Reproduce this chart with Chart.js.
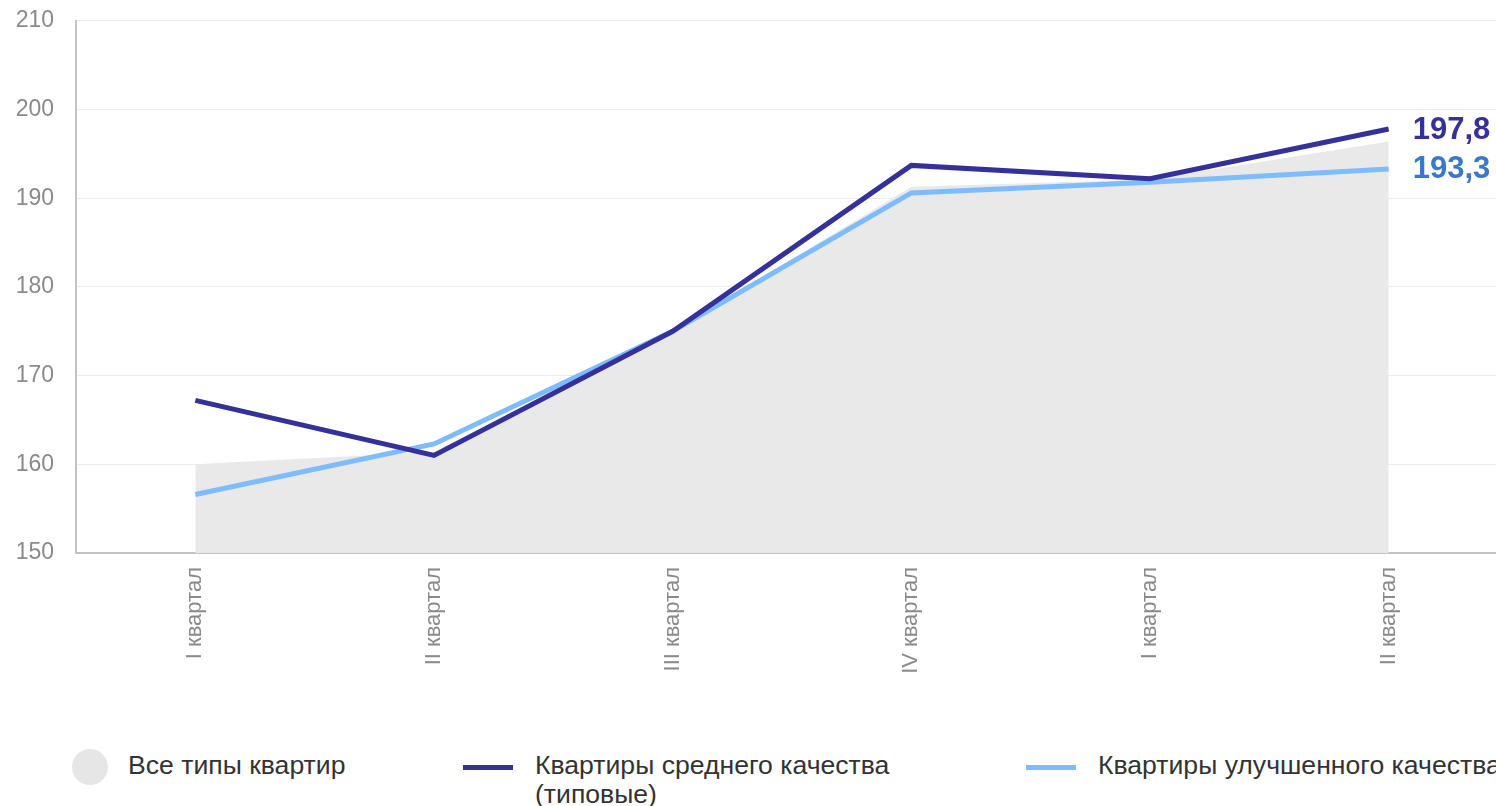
<!DOCTYPE html>
<html lang="ru">
<head>
<meta charset="utf-8">
<script src="https://cdn.jsdelivr.net/npm/chart.js@4/dist/chart.umd.min.js"></script>
<style>
    html, body { margin: 0; padding: 0; background: #fff; overflow: hidden; }
    body { width: 1496px; height: 806px; position: relative; font-family: "Liberation Sans", Arial, sans-serif; }
    #chart-box { position: absolute; left: 0; top: -15px; width: 1508px; height: 695px; }
    .legend { position: absolute; left: 0; top: 746px; width: 1700px; font-size: 26.6px; color: #333; }
    .legend-item { position: absolute; top: 0; display: flex; align-items: flex-start; line-height: 29px; }
    .legend-item .dot { width: 36px; height: 36px; border-radius: 50%; background: #e6e6e6; margin-top: 3px; margin-right: 20px; }
    .legend-item .bar { width: 50px; height: 5px; margin-top: 19px; margin-right: 22px; }
    .legend-item .txt { margin-top: 5px; }
</style>
</head>
<body>
<div id="chart-box"><canvas id="price-chart"></canvas></div>
<div class="legend">
    <div class="legend-item" style="left:72px"><div class="dot"></div><div class="txt">Все типы квартир</div></div>
    <div class="legend-item" style="left:463px"><div class="bar" style="background:#35309a"></div><div class="txt" style="width:400px">Квартиры среднего качества (типовые)</div></div>
    <div class="legend-item" style="left:1026px"><div class="bar" style="background:#7dbcff"></div><div class="txt" style="white-space:nowrap">Квартиры улучшенного качества</div></div>
</div>
<script>
// данные графика (индекс цен по кварталам)
const quarters = ['I квартал', 'II квартал', 'III квартал', 'IV квартал', 'I квартал', 'II квартал'];
const allTypes = [160.0, 161.4, 175.0, 191.3, 192.1, 196.4];
const typicalFlats = [167.2, 161.0, 175.0, 193.7, 192.2, 197.8];
const improvedFlats = [156.6, 162.3, 175.0, 190.6, 191.8, 193.3];
const yTicks = [150, 160, 170, 180, 190, 200, 210];

// подпись последнего значения справа от линии
const endLabels = {
    id: 'endLabels',
    afterDatasetsDraw(chart) {
        const ctx = chart.ctx;
        chart.data.datasets.forEach((ds, i) => {
            if (!ds.endLabelColor) return;
            const meta = chart.getDatasetMeta(i);
            const last = meta.data[meta.data.length - 1];
            const value = ds.data[ds.data.length - 1];
            ctx.save();
            ctx.font = 'bold 31px "Liberation Sans", Arial, sans-serif';
            ctx.fillStyle = ds.endLabelColor;
            ctx.textBaseline = 'middle';
            ctx.textAlign = 'left';
            ctx.fillText(value.toFixed(1).replace('.', ','), last.x + 24, last.y + 1);
            ctx.restore();
        });
    }
};

const ctx = document.getElementById('price-chart').getContext('2d');
const priceChart = new Chart(ctx, {
    type: 'line',
    data: {
        labels: quarters,
        datasets: [
            {
                label: 'Квартиры среднего качества (типовые)',
                data: typicalFlats,
                borderColor: '#35309a',
                borderWidth: 5,
                pointRadius: 0,
                fill: false,
                endLabelColor: '#35309a',
                order: 1
            },
            {
                label: 'Квартиры улучшенного качества',
                data: improvedFlats,
                borderColor: '#7dbcff',
                borderWidth: 5,
                pointRadius: 0,
                fill: false,
                endLabelColor: '#3a78c9',
                order: 2
            },
            {
                label: 'Все типы квартир',
                data: allTypes,
                borderWidth: 0,
                borderColor: 'rgba(0,0,0,0)',
                backgroundColor: '#e9e9e9',
                pointRadius: 0,
                fill: 'start',
                order: 3
            }
        ]
    },
    options: {
        responsive: true,
        maintainAspectRatio: false,
        animation: false,
        layout: { padding: { top: 7, right: 0, left: 0, bottom: 0 } },
        plugins: {
            legend: { display: false },
            tooltip: { enabled: false }
        },
        scales: {
            x: {
                offset: true,
                afterFit: function(scale) { scale.height = 127; },
                grid: { drawOnChartArea: false, drawTicks: false },
                border: { display: true, color: '#c4c4c4', width: 2 },
                ticks: {
                    color: '#8a8a8a',
                    font: { size: 22, family: '"Liberation Sans", Arial, sans-serif' },
                    minRotation: 90,
                    maxRotation: 90,
                    padding: 14,
                    autoSkip: false
                }
            },
            y: {
                min: yTicks[0],
                max: yTicks[yTicks.length - 1],
                afterFit: function(scale) { scale.width = 76; },
                afterBuildTicks: function(scale) { scale.ticks = yTicks.map(v => ({ value: v })); },
                grid: { color: '#ebebeb', lineWidth: 1, drawTicks: false },
                border: { display: true, color: '#c4c4c4', width: 2 },
                ticks: {
                    color: '#8a8a8a',
                    font: { size: 23, family: '"Liberation Sans", Arial, sans-serif' },
                    padding: 22
                }
            }
        }
    },
    plugins: [endLabels]
});
</script>
</body>
</html>
